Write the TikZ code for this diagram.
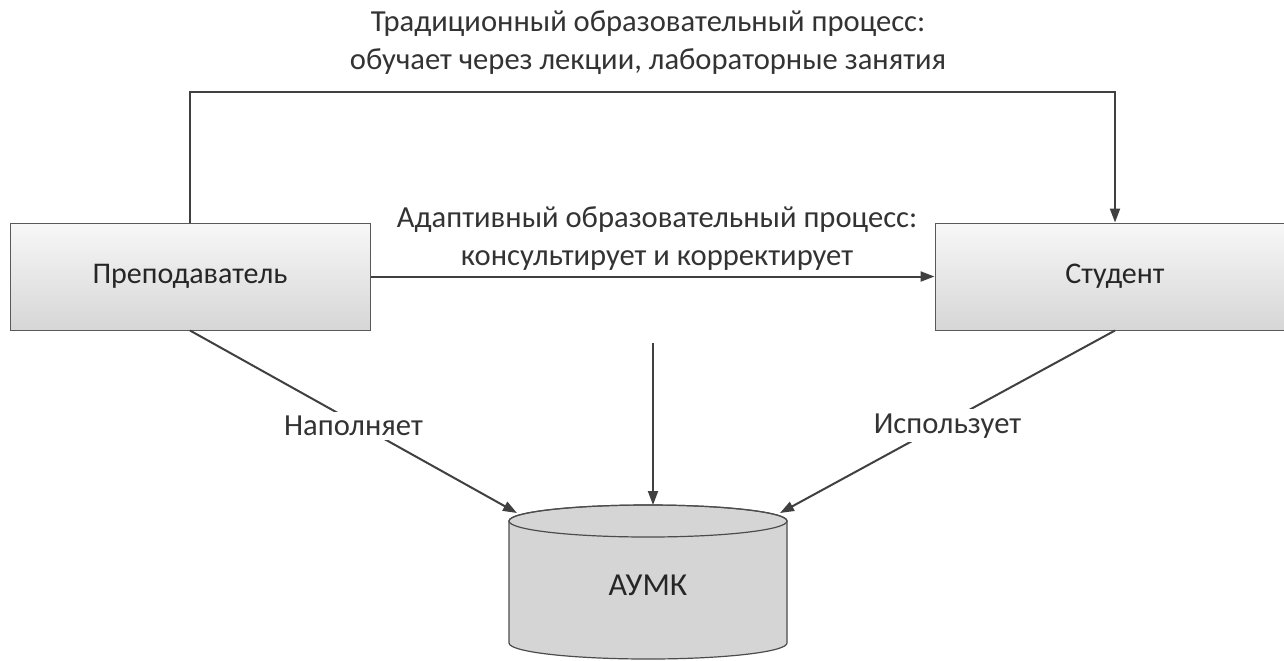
\documentclass[tikz,border=0pt]{standalone}
\usepackage{fontspec}
\setmainfont{Carlito}
\usetikzlibrary{arrows.meta}

\begin{document}
\begin{tikzpicture}[x=0.5pt,y=-0.5pt,
	box/.style={draw=gray!70!black,line width=0.5pt,top color=gray!6,bottom color=gray!32,minimum width=180pt,minimum height=53.5pt,font=\fontsize{15}{18}\selectfont,text=black!85},
	conn/.style={draw=black!75,line width=1pt,-{Triangle[length=7pt,width=5pt]}},
	lbl/.style={font=\fontsize{15.3}{19}\selectfont,align=center,text=black!80}]
\useasboundingbox (0,0) rectangle (1284,660);

\node[box] (teacher) at (190,276.5) {Преподаватель};
\node[box] (student) at (1115,276.5) {Студент};

% AUMK cylinder
\filldraw[fill=gray!33,draw=black!70,line width=0.6pt] (509,521) -- (509,643) arc[start angle=180,end angle=360,x radius=69.5pt,y radius=8pt] -- (787,521) arc[start angle=0,end angle=180,x radius=69.5pt,y radius=8pt] -- cycle;
\draw[black!70,line width=0.6pt] (648,521) ellipse[x radius=69.5pt,y radius=8pt];
\node[lbl,font=\fontsize{16}{18}\selectfont,text=black!85] (umk) at (648,585) {АУМК};
\coordinate (umkl) at (517,513);
\coordinate (umkt) at (653,505);
\coordinate (umkr) at (780,513);
\coordinate (adaptsrc) at (653,343);

\draw[conn] (teacher.north) -- (190,92) -| (student.north);
\node[lbl] (trad) at (648,43) {Традиционный образовательный процесс:\\обучает через лекции, лабораторные занятия};

\draw[conn] (teacher.east) -- (student.west);
\node[lbl] (adapt) at (657,239) {Адаптивный образовательный процесс:\\консультирует и корректирует};
\draw[conn] (adaptsrc) -- (umkt);

\draw[conn] (teacher.south) -- node[lbl,fill=white,inner sep=2pt,yshift=-2pt] (fill) {Наполняет} (umkl);
\draw[conn] (student.south) -- node[lbl,fill=white,inner sep=2pt,yshift=-2pt] (use) {Использует} (umkr);
\end{tikzpicture}
\end{document}
